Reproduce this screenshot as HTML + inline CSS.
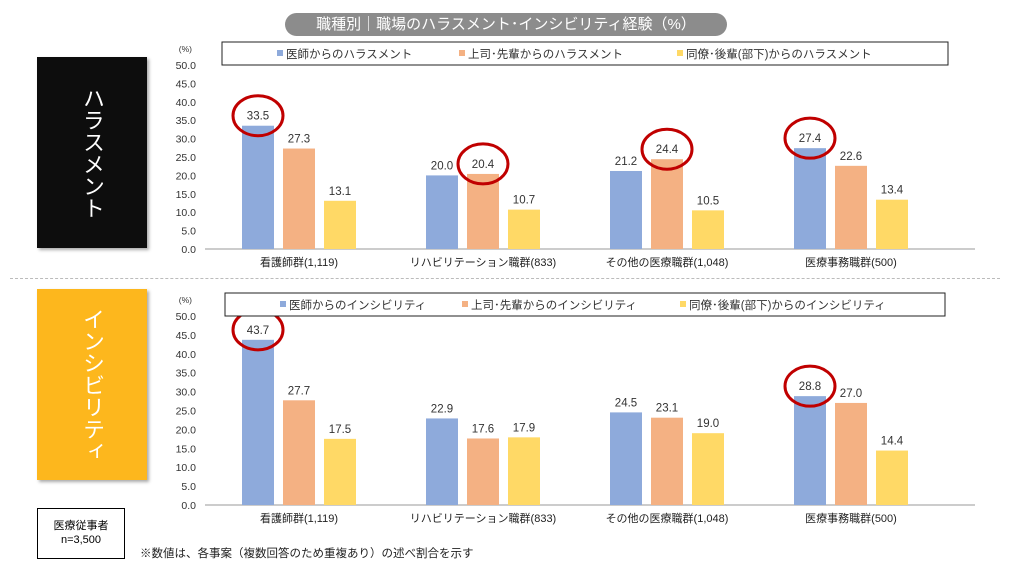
<!DOCTYPE html>
<html><head><meta charset="utf-8">
<style>
body{margin:0;width:1010px;height:580px;background:#fff;font-family:"Liberation Sans","Noto Sans CJK JP",sans-serif;overflow:hidden;position:relative}
.abs{position:absolute}
</style></head>
<body>
<div class="abs" style="left:285px;top:13px;width:442px;height:23px;background:#8c8c8c;border-radius:12px;color:#fff;font-size:15px;text-align:center;line-height:23px">職種別｜職場のハラスメント･インシビリティ経験（%）</div>
<div class="abs" style="left:37px;top:57px;width:110px;height:191px;background:#0d0d0d;box-shadow:2px 2px 3px #aaa"></div>
<div class="abs" style="left:37px;top:57px;width:110px;height:191px;color:#fff;font-size:22px;writing-mode:vertical-rl;display:flex;align-items:center;justify-content:center;">ハラスメント</div>
<div class="abs" style="left:37px;top:289px;width:110px;height:191px;background:#fdb71d;box-shadow:2px 2px 3px #aaa"></div>
<div class="abs" style="left:37px;top:289px;width:110px;height:191px;color:#fff;font-size:22px;writing-mode:vertical-rl;display:flex;align-items:center;justify-content:center;">インシビリティ</div>
<div class="abs" style="left:10px;top:278px;width:990px;border-top:1.5px dashed #bbb"></div>
<div class="abs" style="left:37px;top:508px;width:88px;height:51px;border:1px solid #000;font-size:11px;text-align:center;line-height:14px;box-sizing:border-box;padding-top:10px">医療従事者<br>n=3,500</div>
<div class="abs" style="left:140px;top:545px;font-size:11.5px;color:#222">※数値は、各事案（複数回答のため重複あり）の述べ割合を示す</div>
<svg class="abs" style="left:0;top:0" width="1010" height="580" id="svg"></svg>
<script>
const categories=["看護師群(1,119)","リハビリテーション職群(833)","その他の医療職群(1,048)","医療事務職群(500)"];
const harDoctor=[33.5,20.0,21.2,27.4];
const harSenior=[27.3,20.4,24.4,22.6];
const harPeer=[13.1,10.7,10.5,13.4];
const incDoctor=[43.7,22.9,24.5,28.8];
const incSenior=[27.7,17.6,23.1,27.0];
const incPeer=[17.5,17.9,19.0,14.4];
const ticks=[0,5,10,15,20,25,30,35,40,45,50];
const harLegend=["医師からのハラスメント","上司･先輩からのハラスメント","同僚･後輩(部下)からのハラスメント"];
const incLegend=["医師からのインシビリティ","上司･先輩からのインシビリティ","同僚･後輩(部下)からのインシビリティ"];
const harHighlight=[[0,0],[1,1],[2,1],[3,0]];
const incHighlight=[[0,0],[3,0]];
const colors=["#8eaadb","#f4b183","#ffd966"];
const NS="http://www.w3.org/2000/svg";
const svg=document.getElementById('svg');
function mk(t,a,p){const e=document.createElementNS(NS,t);for(const k in a)e.setAttribute(k,a[k]);(p||svg).appendChild(e);return e;}
function chart(name,y0,y50,series,legend,hl,legTop,legL,legR){
  const g=mk('g',{});
  
  
  const y=v=>y0-(y0-y50)*v/50;
  const cx=i=>284+i*184;
  const bx=(i,s)=>cx(i)-42+s*41;
  ticks.forEach(t=>{const e=mk('text',{x:196,y:y(t)+4,'text-anchor':'end','font-size':10.5,fill:'#333'},g);e.textContent=t.toFixed(1);
    
    });
  const u=mk('text',{x:192,y:y(50)-13,'text-anchor':'end','font-size':8.5,fill:'#333'},g);u.textContent='(%)';
  
  
  const ax=mk('line',{x1:205,x2:975,y1:y0,y2:y0,stroke:'#999','stroke-width':1},g);
  
  
  categories.forEach((c,i)=>{const e=mk('text',{x:cx(i)+15,y:y0+17,'text-anchor':'middle','font-size':11,fill:'#222'},g);e.textContent=c;
    
    });
  series.forEach((arr,s)=>arr.forEach((v,i)=>{
    const r=mk('rect',{x:bx(i,s),y:y(v),width:32,height:y0-y(v),fill:colors[s]},g);
    
    
    const t=mk('text',{x:bx(i,s)+16,y:y(v)-6,'text-anchor':'middle','font-size':11.5,fill:'#333'},g);t.textContent=v.toFixed(1);
    
    
  }));
  hl.forEach(([i,s])=>{const v=series[s][i];
    const e=mk('ellipse',{cx:bx(i,s)+16,cy:y(v)-10,rx:25,ry:20,fill:'none',stroke:'#c00000','stroke-width':3},g);
    
    });
  const lb=mk('rect',{x:legL,y:legTop,width:legR-legL,height:23,fill:'#fff',stroke:'#222','stroke-width':1},g);
  
  
  const lx=[legL+55,legL+237,legL+455];
  legend.forEach((l,s)=>{
    mk('rect',{x:lx[s],y:legTop+8,width:6,height:6,fill:colors[s]},g);
    const t=mk('text',{x:lx[s]+9,y:legTop+16,'font-size':11.5,fill:'#333'},g);t.textContent=l;
    
    
  });
}
chart('harassment-chart',249,65,[harDoctor,harSenior,harPeer],harLegend,harHighlight,42,222,948);
chart('incivility-chart',505,316,[incDoctor,incSenior,incPeer],incLegend,incHighlight,293,225,945);
</script>
</body></html>
